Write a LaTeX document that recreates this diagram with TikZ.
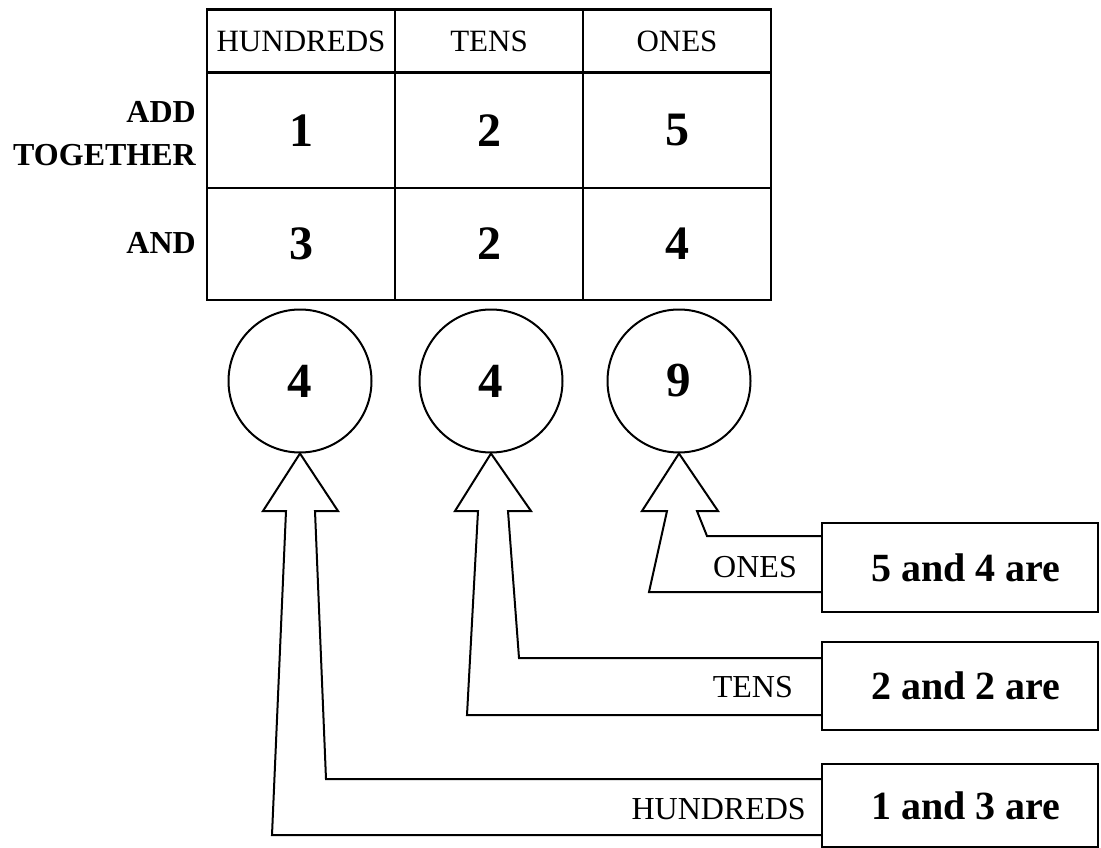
\documentclass[tikz,border=0pt]{standalone}
\usepackage{fontspec}
\setmainfont{Liberation Serif}
\begin{document}
\begin{tikzpicture}[x=1pt,y=-1pt,
  cell/.style={draw,line width=2.5pt,inner sep=0pt,minimum width=188pt},
  hdr/.style={cell,minimum height=63pt,font=\fontsize{31}{38}\selectfont},
  num/.style={cell,font=\fontsize{48}{56}\selectfont\bfseries},
  rowlab/.style={anchor=east,align=right,inner sep=0pt,font=\fontsize{32}{43}\selectfont\bfseries},
  res/.style={circle,draw,line width=2pt,minimum size=143pt,inner sep=0pt,font=\fontsize{49}{56}\selectfont\bfseries},
  sumbox/.style={draw,line width=2.5pt,minimum width=276pt,inner sep=0pt,font=\fontsize{40}{46}\selectfont\bfseries},
  lab/.style={anchor=base east,inner sep=0pt,font=\fontsize{32}{38}\selectfont},
  bigarrow/.style={draw,line width=2pt,line join=miter}]
\useasboundingbox (0,0) rectangle (1101,848);
% table
\node[hdr] (hh) at (301,41) {HUNDREDS};
\node[hdr] (ht) at (489,41) {TENS};
\node[hdr] (ho) at (677,41) {ONES};
\node[num,minimum height=115pt] (a1) at (301,130.5) {1};
\node[num,minimum height=115pt] (a2) at (489,130.5) {2};
\node[num,minimum height=115pt] (a3) at (677,130.5) {5};
\node[num,minimum height=112pt] (b1n) at (301,244) {3};
\node[num,minimum height=112pt] (b2n) at (489,244) {2};
\node[num,minimum height=112pt] (b3n) at (677,244) {4};
\node[rowlab] (lab1) at (196,134) {ADD\\TOGETHER};
\node[rowlab] (lab2) at (196,243) {AND};
% result circles
\node[res] (c1) at (300,381) {4};
\node[res] (c2) at (491,381) {4};
\node[res] (c3) at (679,381) {9};
% sum boxes
\node[sumbox,minimum height=89pt] (s1) at (960,567.5) {\hspace*{12pt}5 and 4 are};
\node[sumbox,minimum height=88pt] (s2) at (960,686) {\hspace*{12pt}2 and 2 are};
\node[sumbox,minimum height=83pt] (s3) at (960,805.5) {\hspace*{12pt}1 and 3 are};
% labels
\node[lab] (l1) at (797,577) {ONES};
\node[lab] (l2) at (793,697) {TENS};
\node[lab] (l3) at (806,819) {HUNDREDS};
% arrows
\draw[bigarrow] (s1.west |- 0,536) -- (707,536) -- (697,511) -- (718,511) -- (c3.south)
  -- (642,511) -- (667,511) -- (649,592) -- (s1.west |- 0,592);
\draw[bigarrow] (s2.west |- 0,658) -- (519,658) -- (508,511) -- (531,511) -- (c2.south)
  -- (455,511) -- (478,511) -- (467,715) -- (s2.west |- 0,715);
\draw[bigarrow] (s3.west |- 0,779) -- (326,779) -- (315,511) -- (338,511) -- (c1.south)
  -- (263,511) -- (286,511) -- (272,835) -- (s3.west |- 0,835);
\end{tikzpicture}
\end{document}
